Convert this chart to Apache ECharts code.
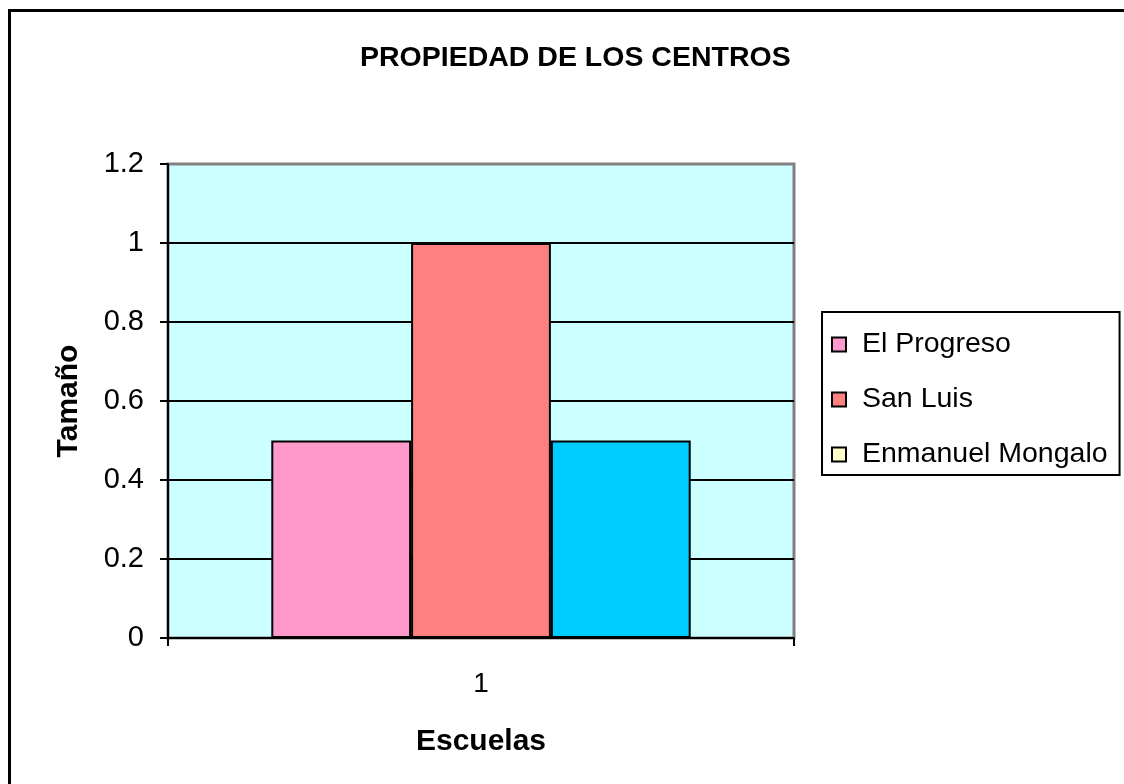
<!DOCTYPE html>
<html>
<head>
<meta charset="utf-8">
<script src="https://cdn.jsdelivr.net/npm/echarts@6/dist/echarts.min.js"></script>
<style>
  body { margin: 0; background: #fff; }
  #chart-container { position: absolute; left: 0; top: 0; width: 1124px; height: 784px; }
  #frame { position: absolute; left: 8px; top: 9px; width: 1200px; height: 900px;
           border-left: 3px solid #000; border-top: 3px solid #000; pointer-events: none; }
</style>
</head>
<body>
<div id="chart-container"></div>
<div id="frame"></div>
<script>
var categories = ['1'];
var seriesNames = ['El Progreso', 'San Luis', 'Enmanuel Mongalo'];
var progreso = [0.5];
var sanLuis = [1];
var mongalo = [0.5];

var dom = document.getElementById('chart-container');
var myChart = echarts.init(dom, null, { renderer: 'canvas' });

const colors = ['#FF99CC', '#FF8080', '#00CCFF'];
const font = 'Liberation Sans, Arial, sans-serif';
const black = '#000';

var option = {
    color: colors,
    animation: false,
    textStyle: { fontFamily: font },
    title: {
        text: 'PROPIEDAD DE LOS CENTROS',
        left: 355,
        top: 39,
        textStyle: { fontFamily: font, fontSize: 28.5, fontWeight: 'bold', color: black }
    },
    legend: {
        orient: 'vertical',
        left: 822,
        top: 312,
        padding: [18, 12, 6, 9],
        itemWidth: 14,
        itemHeight: 14,
        itemGap: 26,
        icon: 'rect',
        borderColor: black,
        borderWidth: 2,
        textStyle: { fontFamily: font, fontSize: 28.5, color: black, padding: [0, 0, 0, 11] },
        data: [
            { name: seriesNames[0] },
            { name: seriesNames[1] },
            { name: seriesNames[2], itemStyle: { color: '#FFFFCC' } }
        ]
    },
    grid: {
        left: 168,
        right: 330,
        top: 164,
        bottom: 146,
        show: true,
        backgroundColor: '#CCFFFF',
        borderColor: '#808080',
        borderWidth: 3
    },
    xAxis: {
        type: 'category',
        data: categories,
        name: 'Escuelas',
        nameLocation: 'middle',
        nameGap: 89,
        nameTextStyle: { fontFamily: font, fontSize: 30, fontWeight: 'bold', color: black },
        axisLine: { lineStyle: { color: black, width: 2 } },
        axisTick: { show: true, length: 8, lineStyle: { color: black, width: 2 } },
        axisLabel: { margin: 32, fontFamily: font, fontSize: 28, color: black }
    },
    yAxis: {
        type: 'value',
        min: 0,
        max: 1.2,
        interval: 0.2,
        name: 'Tamaño',
        nameLocation: 'middle',
        nameGap: 84,
        nameTextStyle: { fontFamily: font, fontSize: 30, fontWeight: 'bold', color: black },
        axisLine: { show: true, lineStyle: { color: black, width: 2 } },
        axisTick: { show: true, length: 8, lineStyle: { color: black, width: 2 } },
        axisLabel: { margin: 24, fontFamily: font, fontSize: 29, color: black },
        splitLine: {
            lineStyle: {
                color: [black, black, black, black, black, black, '#808080'],
                width: 2
            }
        }
    },
    series: [
        {
            name: seriesNames[0],
            type: 'bar',
            barGap: '0%',
            barCategoryGap: '33%',
            itemStyle: { borderColor: black, borderWidth: 2 },
            data: progreso
        },
        {
            name: seriesNames[1],
            type: 'bar',
            itemStyle: { borderColor: black, borderWidth: 2 },
            data: sanLuis
        },
        {
            name: seriesNames[2],
            type: 'bar',
            itemStyle: { borderColor: black, borderWidth: 2 },
            data: mongalo
        }
    ]
};

myChart.setOption(option);
window.addEventListener('resize', myChart.resize);
</script>
</body>
</html>
